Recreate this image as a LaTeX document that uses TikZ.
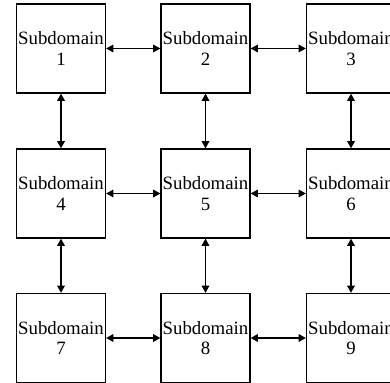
\documentclass[tikz,border=0pt]{standalone}
\usepackage{fontspec}
\setmainfont{Liberation Serif}
\usetikzlibrary{arrows.meta}

\tikzset{
    subbox/.style={draw, line width=0.65pt, minimum width=44.5pt, minimum height=44.5pt,
        inner sep=0pt, align=center, font=\fontsize{9.4}{10.2}\selectfont},
    link/.style={line width=0.65pt, {Triangle[length=3.6pt,width=3.8pt]}-{Triangle[length=3.6pt,width=3.8pt]}}
}

\begin{document}
\begin{tikzpicture}[x=0.5pt, y=-0.5pt]
    \useasboundingbox (0,0) rectangle (390,383);

    \node [subbox] (d1) at (61, 48.5) {Subdomain\\1};
    \node [subbox] (d2) at (205.5, 48.5) {Subdomain\\2};
    \node [subbox] (d3) at (351, 48.5) {Subdomain\\3};

    \node [subbox] (d4) at (61, 193.5) {Subdomain\\4};
    \node [subbox] (d5) at (205.5, 193.5) {Subdomain\\5};
    \node [subbox] (d6) at (351, 193.5) {Subdomain\\6};

    \node [subbox] (d7) at (61, 338) {Subdomain\\7};
    \node [subbox] (d8) at (205.5, 338) {Subdomain\\8};
    \node [subbox] (d9) at (351, 338) {Subdomain\\9};

    % rows
    \draw [link] (d1) -- (d2);
    \draw [link] (d2) -- (d3);
    \draw [link] (d4) -- (d5);
    \draw [link] (d5) -- (d6);
    \draw [link] (d7) -- (d8);
    \draw [link] (d8) -- (d9);

    % columns
    \draw [link] (d1) -- (d4);
    \draw [link] (d4) -- (d7);
    \draw [link] (d2) -- (d5);
    \draw [link] (d5) -- (d8);
    \draw [link] (d3) -- (d6);
    \draw [link] (d6) -- (d9);

\end{tikzpicture}
\end{document}
